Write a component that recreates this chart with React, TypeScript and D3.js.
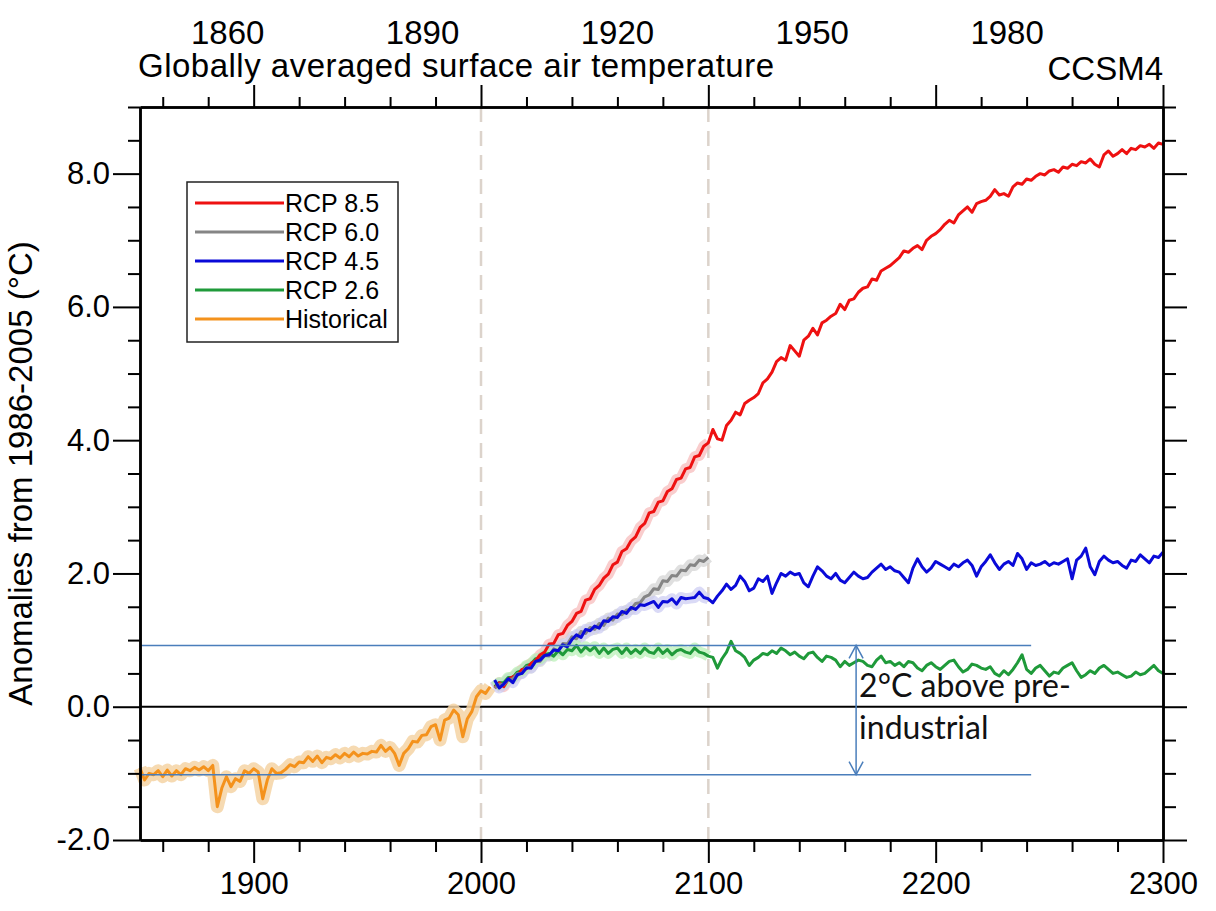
import React, { useEffect, useRef } from "react";
import * as d3 from "d3";

// values every 2 years
const HIST_START = 1850;
const RCP_START = 2006;
const STEP = 2;

const historical = [
  -0.92, -1.1, -1.0, -1.02, -0.96, -1.05, -0.95, -1.04, -0.96, -1.02,
  -0.93, -0.96, -0.91, -0.95, -0.9, -0.96, -0.88, -1.5, -1.22, -1.05,
  -1.2, -1.08, -1.12, -0.96, -1.0, -0.93, -0.98, -1.38, -1.1, -0.93,
  -1.0, -0.99, -0.94, -0.87, -0.9, -0.83, -0.84, -0.75, -0.82, -0.74,
  -0.84, -0.76, -0.78, -0.72, -0.77, -0.7, -0.75, -0.68, -0.74, -0.7,
  -0.71, -0.67, -0.68, -0.58, -0.67, -0.61, -0.7, -0.88, -0.7, -0.63,
  -0.52, -0.53, -0.43, -0.42, -0.3, -0.27, -0.5, -0.2, -0.17, -0.05,
  -0.12, -0.45, -0.18, -0.07, 0.15, 0.24, 0.2, 0.3,
];

const rcp85 = [
  0.28, 0.36, 0.3, 0.41, 0.45, 0.47, 0.56, 0.57, 0.65, 0.69,
  0.78, 0.82, 0.94, 0.95, 1.08, 1.1, 1.22, 1.28, 1.4, 1.43,
  1.6, 1.62, 1.76, 1.82, 1.93, 1.99, 2.13, 2.17, 2.33, 2.37,
  2.49, 2.55, 2.69, 2.75, 2.91, 2.93, 3.07, 3.09, 3.23, 3.27,
  3.41, 3.43, 3.57, 3.59, 3.75, 3.77, 3.91, 3.96, 4.16, 4.02,
  4.0, 4.22, 4.3, 4.42, 4.38, 4.55, 4.6, 4.64, 4.7, 4.86,
  4.92, 5.02, 5.18, 5.24, 5.2, 5.42, 5.34, 5.26, 5.5, 5.56,
  5.68, 5.58, 5.76, 5.8, 5.86, 5.9, 6.04, 5.96, 6.1, 6.12,
  6.22, 6.28, 6.3, 6.42, 6.4, 6.54, 6.58, 6.62, 6.68, 6.74,
  6.84, 6.82, 6.88, 6.92, 6.86, 7.0, 7.06, 7.1, 7.16, 7.24,
  7.3, 7.26, 7.38, 7.44, 7.5, 7.42, 7.55, 7.58, 7.6, 7.66,
  7.76, 7.68, 7.7, 7.66, 7.8, 7.86, 7.84, 7.92, 7.9, 7.96,
  8.0, 7.98, 8.04, 8.06, 8.02, 8.1, 8.08, 8.14, 8.12, 8.18,
  8.16, 8.22, 8.14, 8.1, 8.28, 8.34, 8.26, 8.3, 8.36, 8.3,
  8.38, 8.36, 8.42, 8.4, 8.44, 8.38, 8.46, 8.44,
];

const rcp60 = [
  0.28, 0.34, 0.33, 0.4, 0.42, 0.5, 0.5, 0.6, 0.58, 0.68,
  0.68, 0.77, 0.76, 0.87, 0.84, 0.95, 0.94, 1.05, 1.02, 1.13,
  1.1, 1.19, 1.16, 1.25, 1.22, 1.33, 1.3, 1.39, 1.38, 1.45,
  1.46, 1.55, 1.56, 1.65, 1.68, 1.77, 1.76, 1.89, 1.88, 1.97,
  1.96, 2.05, 2.04, 2.13, 2.12, 2.2, 2.18, 2.24,
];

const rcp45 = [
  0.4, 0.28, 0.34, 0.42, 0.36, 0.48, 0.5, 0.58, 0.58, 0.68,
  0.7, 0.77, 0.78, 0.85, 0.84, 0.93, 0.9, 1.01, 1.08, 1.04,
  1.16, 1.14, 1.21, 1.18, 1.29, 1.28, 1.35, 1.34, 1.43, 1.4,
  1.49, 1.46, 1.53, 1.52, 1.55, 1.58, 1.49, 1.58, 1.57, 1.62,
  1.54, 1.64, 1.62, 1.63, 1.64, 1.72, 1.64, 1.62, 1.56, 1.66,
  1.74, 1.84, 1.76, 1.82, 1.96, 1.88, 1.74, 1.78, 1.92, 1.88,
  1.96, 1.7, 1.86, 2.0, 1.96, 2.02, 1.98, 2.0, 1.86, 1.8,
  1.96, 2.1, 2.04, 1.96, 1.92, 2.0, 1.9, 1.86, 1.94, 2.02,
  1.96, 1.92, 1.94, 2.02, 2.08, 2.14, 2.06, 2.1, 2.04, 2.02,
  1.94, 1.86, 2.08, 2.22, 2.1, 2.02, 2.08, 2.18, 2.14, 2.1,
  2.06, 2.14, 2.1, 2.16, 2.2, 2.12, 1.96, 2.1, 2.18, 2.28,
  2.16, 2.06, 2.14, 2.18, 2.12, 2.3, 2.22, 2.06, 2.16, 2.12,
  2.14, 2.18, 2.12, 2.16, 2.14, 2.18, 2.22, 1.92, 2.2, 2.26,
  2.38, 2.1, 1.98, 2.18, 2.26, 2.2, 2.16, 2.18, 2.12, 2.08,
  2.2, 2.18, 2.28, 2.22, 2.16, 2.26, 2.24, 2.32,
];

const rcp26 = [
  0.3, 0.36, 0.36, 0.44, 0.44, 0.52, 0.54, 0.62, 0.64, 0.72,
  0.72, 0.78, 0.8, 0.76, 0.84, 0.78, 0.86, 0.84, 0.92, 0.82,
  0.9, 0.84, 0.9, 0.8, 0.88, 0.8, 0.86, 0.88, 0.8, 0.88,
  0.8, 0.86, 0.8, 0.88, 0.82, 0.8, 0.88, 0.8, 0.86, 0.78,
  0.84, 0.86, 0.82, 0.8, 0.88, 0.82, 0.8, 0.76, 0.74, 0.58,
  0.72, 0.82, 0.98, 0.84, 0.8, 0.74, 0.62, 0.7, 0.74, 0.8,
  0.78, 0.84, 0.8, 0.88, 0.84, 0.78, 0.82, 0.76, 0.72, 0.8,
  0.82, 0.74, 0.68, 0.76, 0.74, 0.7, 0.6, 0.68, 0.62, 0.66,
  0.7, 0.68, 0.62, 0.6, 0.7, 0.76, 0.66, 0.68, 0.62, 0.66,
  0.6, 0.68, 0.66, 0.58, 0.54, 0.62, 0.66, 0.6, 0.56, 0.62,
  0.68, 0.7, 0.6, 0.52, 0.56, 0.64, 0.62, 0.58, 0.56, 0.6,
  0.5, 0.46, 0.54, 0.48, 0.56, 0.66, 0.78, 0.56, 0.5, 0.58,
  0.62, 0.54, 0.46, 0.52, 0.5, 0.58, 0.62, 0.66, 0.54, 0.44,
  0.48, 0.54, 0.5, 0.58, 0.62, 0.56, 0.5, 0.52, 0.48, 0.44,
  0.46, 0.52, 0.48, 0.5, 0.56, 0.62, 0.54, 0.5,
];

const legendLabels = ["RCP 8.5", "RCP 6.0", "RCP 4.5", "RCP 2.6", "Historical"];
const lineColors = ["#ee1111", "#858585", "#0a0ad8", "#1f9a3a", "#f4921c"];
const bandColors = ["#f7b8b8", "#d2d2d2", "#cbcbf2", "#b6efb4", "#f5d3a4"];

const topLabels = [1860, 1890, 1920, 1950, 1980];
const yMajor = [-2, 0, 2, 4, 6, 8];
const dashedYears = [2000, 2100];
const twoDegreeLevels = [0.92, -1.02];
const twoDegreeEndYear = 2242;
const arrowYear = 2165;

function App() {
  const svgRef = useRef(null);

  useEffect(() => {
    const svg = d3.select(svgRef.current);
    svg.selectAll("*").remove();

    const left = 140, right = 1163, top = 107, bottom = 840;
    const font = "'Liberation Sans', Arial, Helvetica, sans-serif";

    const x = d3.scaleLinear().domain([1850, 2300]).range([left, right]);
    const y = d3.scaleLinear().domain([-2, 9]).range([bottom, top]);
    // the figure's top axis carries its own (shifted) year labels
    const xTop = d3.scaleLinear().domain([1846.5, 2004]).range([left, right]);

    const toPts = (vals, start) => vals.map((v, i) => [start + i * STEP, v]);
    const hist = toPts(historical, HIST_START);
    const rcps = [rcp85, rcp60, rcp45, rcp26].map((s) => toPts(s, RCP_START));

    const line = d3
      .line()
      .x((d) => x(d[0]))
      .y((d) => y(d[1]));

    // dashed reference years
    svg
      .append("g")
      .selectAll("line")
      .data(dashedYears)
      .enter()
      .append("line")
      .attr("x1", (d) => x(d))
      .attr("x2", (d) => x(d))
      .attr("y1", top)
      .attr("y2", bottom)
      .attr("stroke", "#dcd3cb")
      .attr("stroke-width", 2.5)
      .attr("stroke-dasharray", "15,9");

    // zero line
    svg
      .append("line")
      .attr("x1", left)
      .attr("x2", right)
      .attr("y1", y(0))
      .attr("y2", y(0))
      .attr("stroke", "#000")
      .attr("stroke-width", 2);

    // spread bands (drawn as wide pale strokes)
    const bands = rcps.map((s) => s.filter((d) => d[0] <= 2100));
    svg
      .append("path")
      .attr("d", line(hist))
      .attr("fill", "none")
      .attr("stroke", bandColors[4])
      .attr("stroke-width", 13)
      .attr("stroke-opacity", 0.85)
      .attr("stroke-linejoin", "round");
    svg
      .append("g")
      .selectAll("path")
      .data(bands)
      .enter()
      .append("path")
      .attr("d", line)
      .attr("fill", "none")
      .attr("stroke", (d, i) => bandColors[i])
      .attr("stroke-width", 11)
      .attr("stroke-opacity", 0.7)
      .attr("stroke-linejoin", "round");

    // series lines
    svg
      .append("path")
      .attr("d", line(hist))
      .attr("fill", "none")
      .attr("stroke", lineColors[4])
      .attr("stroke-width", 3)
      .attr("stroke-linejoin", "round");

    const order = [3, 0, 1, 2];
    svg
      .append("g")
      .selectAll("path")
      .data(order)
      .enter()
      .append("path")
      .attr("d", (i) => line(rcps[i]))
      .attr("fill", "none")
      .attr("stroke", (i) => lineColors[i])
      .attr("stroke-width", 3)
      .attr("stroke-linejoin", "round");

    // 2 degree annotation
    const annColor = "#4a7ebb";
    svg
      .append("g")
      .selectAll("line")
      .data(twoDegreeLevels)
      .enter()
      .append("line")
      .attr("x1", left)
      .attr("x2", x(twoDegreeEndYear))
      .attr("y1", (d) => y(d))
      .attr("y2", (d) => y(d))
      .attr("stroke", annColor)
      .attr("stroke-width", 1.5);

    const ax = x(arrowYear);
    const yA = y(twoDegreeLevels[0]);
    const yB = y(twoDegreeLevels[1]);
    svg
      .append("line")
      .attr("x1", ax)
      .attr("x2", ax)
      .attr("y1", yA)
      .attr("y2", yB)
      .attr("stroke", annColor)
      .attr("stroke-width", 1.5);
    svg
      .append("path")
      .attr("d", `M${ax - 7},${yA + 13}L${ax},${yA}L${ax + 7},${yA + 13}M${ax - 7},${yB - 13}L${ax},${yB}L${ax + 7},${yB - 13}`)
      .attr("fill", "none")
      .attr("stroke", annColor)
      .attr("stroke-width", 1.5);

    const ann = svg
      .append("text")
      .attr("font-family", "Lato, 'Open Sans', sans-serif")
      .attr("font-size", 32)
      .attr("fill", "#111");
    ann.append("tspan").attr("x", ax + 3).attr("y", y(0) - 10).text("2°C above pre-");
    ann.append("tspan").attr("x", ax + 3).attr("y", y(0) + 32).text("industrial");

    // axes
    const ticksAll = d3.range(1860, 2301, 20);
    const xMajor = ticksAll.filter((d) => d % 100 === 0);
    const xMinor = ticksAll.filter((d) => d % 100 !== 0);
    const yAll = d3.range(-2, 9.01, 0.5);
    const yMinor = yAll.filter((d) => d % 2 !== 0);

    const styleAxis = (g) => {
      g.select(".domain").attr("stroke-width", 2.5);
      g.selectAll(".tick line").attr("stroke-width", 2);
      g.attr("font-family", font).attr("font-size", 31);
      g.selectAll("text").attr("fill", "#000");
    };

    svg
      .append("g")
      .attr("transform", `translate(0,${bottom})`)
      .call(d3.axisBottom(x).tickValues(xMinor).tickSize(12).tickSizeOuter(0).tickFormat(() => ""))
      .call(styleAxis);
    svg
      .append("g")
      .attr("transform", `translate(0,${bottom})`)
      .call(d3.axisBottom(x).tickValues(xMajor).tickSize(23).tickSizeOuter(0).tickPadding(9).tickFormat((d) => String(d)))
      .call(styleAxis);

    svg
      .append("g")
      .attr("transform", `translate(0,${top})`)
      .call(d3.axisTop(x).tickValues(xMinor).tickSize(10).tickSizeOuter(0).tickFormat(() => ""))
      .call(styleAxis);
    svg
      .append("g")
      .attr("transform", `translate(0,${top})`)
      .call(d3.axisTop(x).tickValues(xMajor).tickSize(22).tickSizeOuter(0).tickFormat(() => ""))
      .call(styleAxis);

    svg
      .append("g")
      .attr("transform", `translate(${left},0)`)
      .call(d3.axisLeft(y).tickValues(yMinor).tickSize(12).tickSizeOuter(0).tickFormat(() => ""))
      .call(styleAxis);
    svg
      .append("g")
      .attr("transform", `translate(${left},0)`)
      .call(d3.axisLeft(y).tickValues(yMajor).tickSize(27).tickSizeOuter(0).tickPadding(3).tickFormat((d) => d.toFixed(1)))
      .call(styleAxis);

    svg
      .append("g")
      .attr("transform", `translate(${right},0)`)
      .call(d3.axisRight(y).tickValues(yMinor).tickSize(13).tickSizeOuter(0).tickFormat(() => ""))
      .call(styleAxis);
    svg
      .append("g")
      .attr("transform", `translate(${right},0)`)
      .call(d3.axisRight(y).tickValues(yMajor).tickSize(24).tickSizeOuter(0).tickFormat(() => ""))
      .call(styleAxis);

    // top labels on their own scale
    svg
      .append("g")
      .selectAll("text")
      .data(topLabels)
      .enter()
      .append("text")
      .attr("x", (d) => xTop(d))
      .attr("y", 44)
      .attr("text-anchor", "middle")
      .attr("font-family", font)
      .attr("font-size", 33)
      .text((d) => d);

    // titles
    svg
      .append("text")
      .attr("x", 138)
      .attr("y", 77)
      .attr("font-family", font)
      .attr("font-size", 33)
      .attr("textLength", 636)
      .text("Globally averaged surface air temperature");
    svg
      .append("text")
      .attr("x", right)
      .attr("y", 80)
      .attr("text-anchor", "end")
      .attr("font-family", font)
      .attr("font-size", 33)
      .text("CCSM4");

    svg
      .append("text")
      .attr("transform", "rotate(-90)")
      .attr("x", -(top + bottom) / 2)
      .attr("y", 32)
      .attr("text-anchor", "middle")
      .attr("font-family", font)
      .attr("font-size", 33)
      .text("Anomalies from 1986-2005 (°C)");

    // legend
    const lg = svg.append("g");
    lg.append("rect")
      .attr("x", 187)
      .attr("y", 182)
      .attr("width", 211)
      .attr("height", 160)
      .attr("fill", "#fff")
      .attr("stroke", "#222")
      .attr("stroke-width", 1.5);
    const rows = lg
      .selectAll("g.row")
      .data(legendLabels)
      .enter()
      .append("g")
      .attr("class", "row")
      .attr("transform", (d, i) => `translate(0,${203 + i * 29})`);
    rows
      .append("line")
      .attr("x1", 195)
      .attr("x2", 284)
      .attr("stroke", (d, i) => lineColors[i])
      .attr("stroke-width", 3);
    rows
      .append("text")
      .attr("x", 285)
      .attr("y", 9)
      .attr("font-family", font)
      .attr("font-size", 25)
      .text((d) => d);
  }, []);

  return (
    <div>
      <svg
        ref={svgRef}
        width={1216}
        height={911}
        style={{ position: "absolute", left: 0, top: 0, background: "#fff" }}
      ></svg>
    </div>
  );
}

export default App;
